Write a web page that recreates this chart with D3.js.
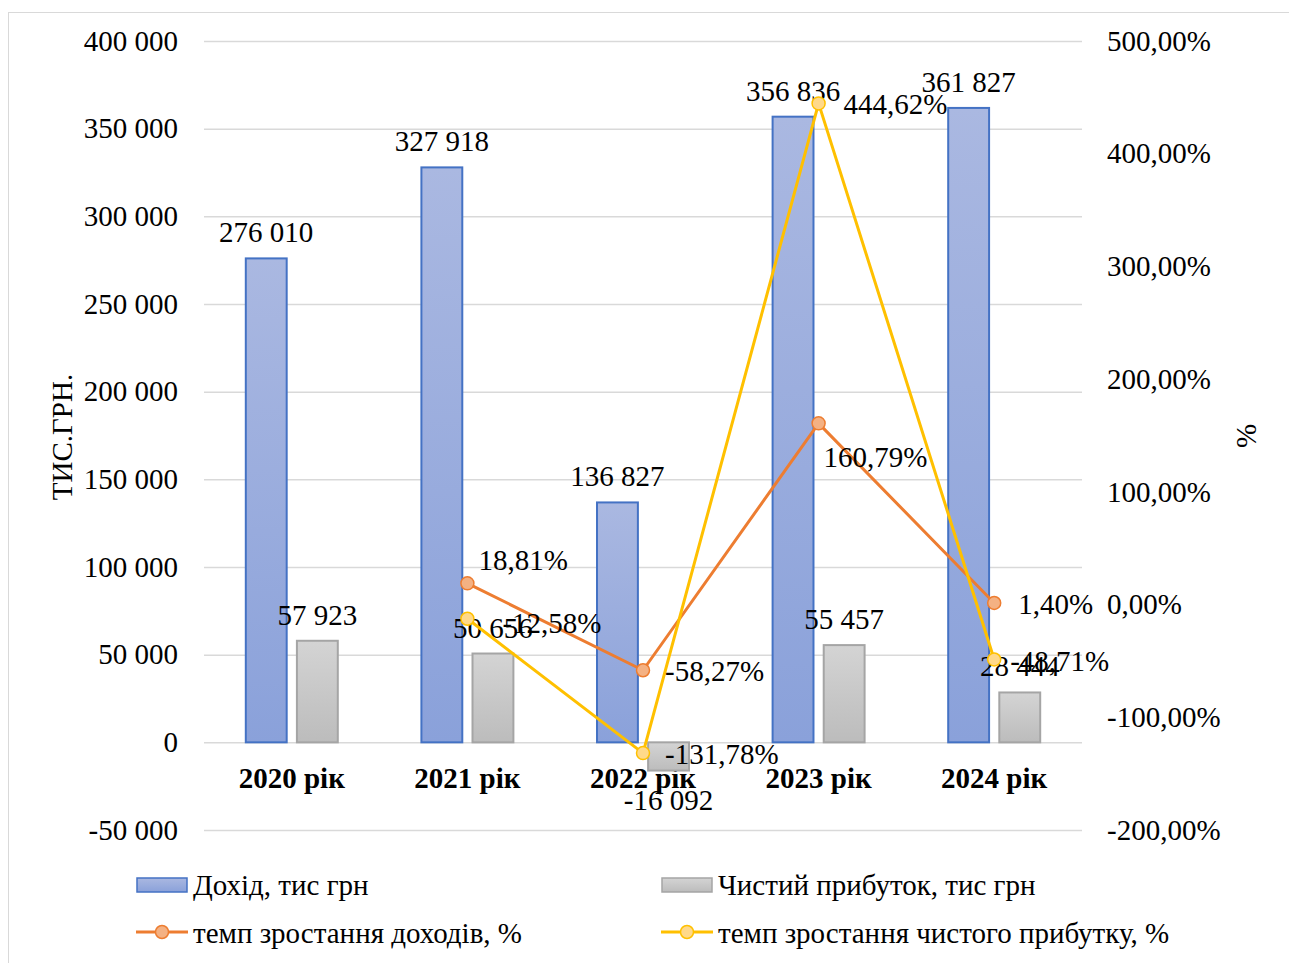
<!DOCTYPE html>
<html>
<head>
<meta charset="utf-8">
<script src="https://cdn.jsdelivr.net/npm/d3@7"></script>
<style>
  html, body { margin: 0; padding: 0; background: #fff; }
  svg text { font-family: "Liberation Serif", "Times New Roman", serif; fill: #000; }
</style>
</head>
<body>
<svg id="chart" width="1289" height="963"></svg>
<script>
// Years
const years = ["2020 рік", "2021 рік", "2022 рік", "2023 рік", "2024 рік"];
// Revenue and net profit, thousand UAH
const revenue = [276010, 327918, 136827, 356836, 361827];
const netProfit = [57923, 50656, -16092, 55457, 28444];
// Year-on-year growth rates, %
const revenueGrowth = [null, 18.81, -58.27, 160.79, 1.40];
const profitGrowth = [null, -12.58, -131.78, 444.62, -48.71];
// Axis ticks
const leftTicks = [-50000, 0, 50000, 100000, 150000, 200000, 250000, 300000, 350000, 400000];
const rightTicks = [-200, -100, 0, 100, 200, 300, 400, 500];

const uaLocale = d3.formatLocale({ decimal: ",", thousands: " ", grouping: [3], currency: ["", ""], minus: "-" });
const fmtInt = uaLocale.format(",");
const fmtPct = v => uaLocale.format(".2f")(v) + "%";

const svg = d3.select("#chart");
const FS = 29;

// outer chart frame
svg.append("rect").attr("x", 8.5).attr("y", 12.5).attr("width", 1300).attr("height", 1000)
  .attr("fill", "none").attr("stroke", "#d9d9d9").attr("stroke-width", 1);

const plotL = 204, plotR = 1082, plotT = 41, plotB = 830;

const x = d3.scaleBand().domain(years).range([plotL, plotR]);
const xSub = d3.scaleBand().domain(["rev", "profit"]).range([-46, 46]).paddingInner(0.2);
const yL = d3.scaleLinear().domain([-50000, 400000]).range([plotB, plotT]);
const yR = d3.scaleLinear().domain([-200, 500]).range([plotB, plotT]);

// gradients
const defs = svg.append("defs");
const gBlue = defs.append("linearGradient").attr("id", "gBlue").attr("x1", 0).attr("y1", 0).attr("x2", 0).attr("y2", 1);
gBlue.append("stop").attr("offset", "0%").attr("stop-color", "#aab8e1");
gBlue.append("stop").attr("offset", "100%").attr("stop-color", "#8aa1da");
const gGrey = defs.append("linearGradient").attr("id", "gGrey").attr("x1", 0).attr("y1", 0).attr("x2", 0).attr("y2", 1);
gGrey.append("stop").attr("offset", "0%").attr("stop-color", "#d4d4d4");
gGrey.append("stop").attr("offset", "100%").attr("stop-color", "#bcbcbc");

// gridlines
svg.append("g").attr("transform", `translate(${plotL},0)`)
  .call(d3.axisLeft(yL).tickValues(leftTicks).tickSize(-(plotR - plotL)).tickFormat(""))
  .call(g => g.select(".domain").remove())
  .call(g => g.selectAll("line").attr("stroke", "#d9d9d9").attr("stroke-width", 1.5));

// left axis labels
svg.append("g").attr("transform", `translate(${plotL},0)`)
  .call(d3.axisLeft(yL).tickValues(leftTicks).tickSize(0).tickPadding(26).tickFormat(fmtInt))
  .call(g => g.select(".domain").remove())
  .call(g => g.selectAll("text").attr("font-size", FS).attr("font-family", "Liberation Serif").attr("fill", "#000"));

// right axis labels
svg.append("g").attr("transform", `translate(${plotR},0)`)
  .call(d3.axisRight(yR).tickValues(rightTicks).tickSize(0).tickPadding(25).tickFormat(fmtPct))
  .call(g => g.select(".domain").remove())
  .call(g => g.selectAll("text").attr("font-size", FS).attr("font-family", "Liberation Serif").attr("fill", "#000"));

// category labels
svg.append("g").selectAll("text").data(years).join("text")
  .attr("x", d => x(d) + x.bandwidth() / 2).attr("y", 788)
  .attr("text-anchor", "middle").attr("font-size", FS).attr("font-weight", "bold").text(d => d);

// axis titles
svg.append("text").attr("transform", "translate(72,437) rotate(-90)")
  .attr("text-anchor", "middle").attr("font-size", FS).text("ТИС.ГРН.");
svg.append("text").attr("transform", "translate(1256,436) rotate(-90)")
  .attr("text-anchor", "middle").attr("font-size", FS).text("%");

const cx = i => x(years[i]) + x.bandwidth() / 2;

// bars
const barData = [];
years.forEach((y, i) => {
  barData.push({ i, key: "rev", v: revenue[i] });
  barData.push({ i, key: "profit", v: netProfit[i] });
});
svg.append("g").selectAll("rect").data(barData).join("rect")
  .attr("x", d => cx(d.i) + xSub(d.key))
  .attr("width", xSub.bandwidth())
  .attr("y", d => Math.min(yL(d.v), yL(0)))
  .attr("height", d => Math.abs(yL(d.v) - yL(0)))
  .attr("fill", d => d.key === "rev" ? "url(#gBlue)" : "url(#gGrey)")
  .attr("stroke", d => d.key === "rev" ? "#4472c4" : "#a5a5a5")
  .attr("stroke-width", 2);

// bar value labels
svg.append("g").selectAll("text").data(barData).join("text")
  .attr("x", d => cx(d.i) + xSub(d.key) + xSub.bandwidth() / 2)
  .attr("y", d => d.v >= 0 ? yL(d.v) - 16 : yL(d.v) + 39)
  .attr("text-anchor", "middle").attr("font-size", FS)
  .text(d => fmtInt(d.v));

// growth lines
function growthSeries(values, color, fill, labelOffsets) {
  const pts = values.map((v, i) => ({ i, v })).filter(d => d.v !== null);
  const line = d3.line().x(d => cx(d.i)).y(d => yR(d.v));
  svg.append("path").datum(pts).attr("d", line)
    .attr("fill", "none").attr("stroke", color).attr("stroke-width", 3).attr("stroke-linejoin", "round");
  svg.append("g").selectAll("circle").data(pts).join("circle")
    .attr("cx", d => cx(d.i)).attr("cy", d => yR(d.v)).attr("r", 6.5)
    .attr("fill", fill).attr("stroke", color).attr("stroke-width", 1.5);
  return pts.map(d => ({ ...d, off: labelOffsets[d.i] }));
}
const revLabels = growthSeries(revenueGrowth, "#ed7d31", "#f4b183",
  { 1: [11, -13], 2: [22, 11], 3: [5, 44], 4: [24, 11] });
const profLabels = growthSeries(profitGrowth, "#ffc000", "#ffd98a",
  { 1: [35, 14], 2: [22, 11], 3: [25, 11], 4: [16, 12] });

svg.append("g").selectAll("text").data(revLabels.concat(profLabels)).join("text")
  .attr("x", d => cx(d.i) + d.off[0]).attr("y", d => yR(d.v) + d.off[1])
  .attr("font-size", FS).text(d => fmtPct(d.v));

// legend
const lg = svg.append("g");
lg.append("rect").attr("x", 137).attr("y", 878).attr("width", 50).attr("height", 14)
  .attr("fill", "url(#gBlue)").attr("stroke", "#4472c4").attr("stroke-width", 1.5);
lg.append("text").attr("x", 193).attr("y", 895).attr("font-size", FS).text("Дохід, тис грн");
lg.append("rect").attr("x", 662).attr("y", 878).attr("width", 50).attr("height", 14)
  .attr("fill", "url(#gGrey)").attr("stroke", "#a5a5a5").attr("stroke-width", 1.5);
lg.append("text").attr("x", 718).attr("y", 895).attr("font-size", FS).text("Чистий прибуток, тис грн");

lg.append("line").attr("x1", 136).attr("x2", 188).attr("y1", 932).attr("y2", 932)
  .attr("stroke", "#ed7d31").attr("stroke-width", 3);
lg.append("circle").attr("cx", 162).attr("cy", 932).attr("r", 6.5)
  .attr("fill", "#f4b183").attr("stroke", "#ed7d31").attr("stroke-width", 1.5);
lg.append("text").attr("x", 193).attr("y", 943).attr("font-size", FS).text("темп зростання доходів, %");

lg.append("line").attr("x1", 661).attr("x2", 713).attr("y1", 932).attr("y2", 932)
  .attr("stroke", "#ffc000").attr("stroke-width", 3);
lg.append("circle").attr("cx", 687).attr("cy", 932).attr("r", 6.5)
  .attr("fill", "#ffd98a").attr("stroke", "#ffc000").attr("stroke-width", 1.5);
lg.append("text").attr("x", 718).attr("y", 943).attr("font-size", FS).text("темп зростання чистого прибутку, %");
</script>
</body>
</html>
